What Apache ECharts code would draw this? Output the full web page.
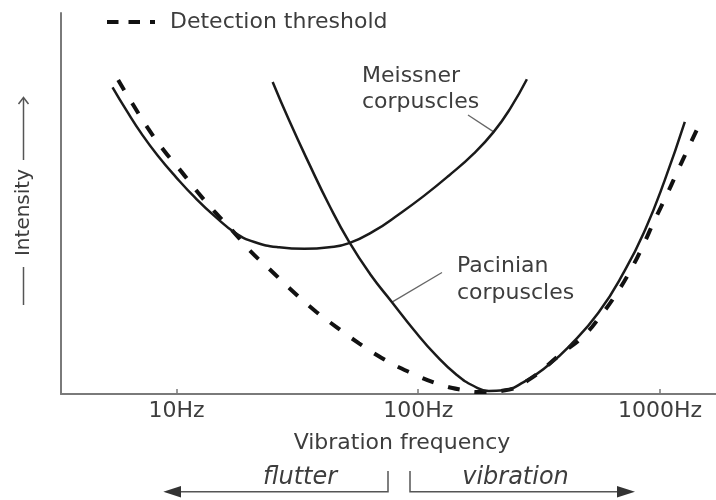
<!DOCTYPE html>
<html><head><meta charset="utf-8">
<script src="https://cdn.jsdelivr.net/npm/echarts@6/dist/echarts.min.js"></script>
<style>html,body{margin:0;padding:0;background:#fff}#c{width:716px;height:500px}</style>
</head><body><div id="c"></div>
<script>
// ---- data (frequency in Hz, intensity in arbitrary units 0-100) ----
const xTickLabels = ['10Hz', '100Hz', '1000Hz'];
const meissnerFreq = [5.44, 6.23, 7.19, 8.36, 9.93, 12.0, 14.5, 17.5, 21.0, 26.6, 33.8, 42.8, 51.8, 65.7, 83.3, 105.6, 133.8, 169.7, 205.2, 241.1, 281.5];
const meissnerInt  = [80.5, 74.3, 68.2, 62.6, 57.0, 51.4, 46.5, 42.3, 39.9, 38.5, 38.1, 38.5, 39.6, 42.8, 47.2, 52.0, 57.3, 63.1, 68.8, 75.1, 82.6];
const pacinianFreq = [25.0, 29.3, 35.4, 42.8, 51.8, 63.2, 77.9, 96.0, 118.3, 144.4, 169.7, 195.7, 225.7, 272.9, 345.9, 418.2, 556.2, 716.6, 866.5, 1047.6, 1266.8];
const pacinianInt  = [81.9, 71.7, 60.4, 49.6, 39.9, 31.5, 24.1, 16.8, 10.2, 5.0, 2.1, 0.8, 1.0, 3.1, 7.6, 12.3, 21.3, 32.5, 43.0, 56.2, 71.4];
const thresholdFreq = [5.74, 6.62, 7.63, 8.86, 10.5, 12.3, 14.6, 17.7, 20.0, 24.9, 30.1, 37.8, 45.6, 56.9, 70.9, 91.5, 121.7, 154.3, 183.1, 225.7, 286.1, 392.5, 482.5, 570.7, 661.6, 758.6, 852.6, 946.3, 1063.6, 1188.8, 1328.5, 1460.6];
const thresholdInt  = [82.4, 75.9, 69.7, 64.0, 58.3, 52.8, 47.4, 41.7, 37.8, 32.1, 27.1, 21.6, 17.7, 13.3, 9.4, 5.8, 2.6, 1.0, 0.5, 0.9, 3.7, 10.7, 15.2, 20.7, 26.4, 32.7, 39.1, 45.4, 52.1, 58.8, 65.4, 71.0];
const seriesNames = ['Detection threshold', 'Meissner corpuscles', 'Pacinian corpuscles'];
const meissnerLabelPoint = [205.2, 68.8];
const pacinianLabelPoint = [77.9, 24.1];

const FONT = 'DejaVu Sans';
const TXT = '#3d3d3d';
const AX = '#7a7a7a';
const pairs = (xs, ys) => xs.map((x, i) => [x, ys[i]]);

const chart = echarts.init(document.getElementById('c'), null, {renderer: 'canvas'});
chart.setOption({
  animation: false,
  backgroundColor: '#fff',
  grid: {left: 61, right: -2, top: 13, bottom: 106},
  legend: {
    data: [seriesNames[0]], left: 107, top: 11, padding: 0,
    itemWidth: 48, itemHeight: 4,
    icon: 'path://M0,0H11.5V4H0Z M21.5,0H33V4H21.5Z M43,0H48V4H43Z',
    itemStyle: {color: '#111', borderWidth: 0},
    textStyle: {fontFamily: FONT, fontSize: 22, color: TXT, padding: [0, 0, 0, 10]}
  },
  xAxis: {
    type: 'log', logBase: 10, min: 3.33, max: 1705,
    axisLine: {lineStyle: {color: AX, width: 2}},
    axisTick: {inside: true, length: 5, lineStyle: {color: AX, width: 1.5}},
    axisLabel: {
      margin: 6, fontFamily: FONT, fontSize: 22, color: TXT,
      showMinLabel: false, showMaxLabel: false,
      formatter: v => {
        const L = Math.log10(v);
        const r = Math.round(L);
        return Math.abs(L - r) < 1e-6 && r >= 1 && r <= 3 ? xTickLabels[r - 1] : '';
      }
    },
    splitLine: {show: false},
    name: 'Vibration frequency', nameLocation: 'middle', nameGap: 38,
    nameTextStyle: {fontFamily: FONT, fontSize: 22, color: TXT, padding: [0, 0, 0, 27]}
  },
  yAxis: {
    type: 'value', min: 0, max: 100,
    axisLine: {show: true, lineStyle: {color: AX, width: 2}},
    axisTick: {show: false}, axisLabel: {show: false}, splitLine: {show: false}
  },
  series: [
    {name: seriesNames[0], type: 'line', data: pairs(thresholdFreq, thresholdInt), smooth: 0.5, symbol: 'none', clip: false,
     itemStyle: {color: '#111'}, lineStyle: {color: '#111', width: 4, type: [12, 15]}},
    {name: seriesNames[1], type: 'line', data: pairs(meissnerFreq, meissnerInt), smooth: 0.5, symbol: 'none', clip: false,
     itemStyle: {color: '#111'}, lineStyle: {color: '#1a1a1a', width: 2.5}},
    {name: seriesNames[2], type: 'line', data: pairs(pacinianFreq, pacinianInt), smooth: 0.5, symbol: 'none', clip: false,
     itemStyle: {color: '#111'}, lineStyle: {color: '#1a1a1a', width: 2.5}}
  ]
});

const mP = chart.convertToPixel({gridIndex: 0}, meissnerLabelPoint);
const pP = chart.convertToPixel({gridIndex: 0}, pacinianLabelPoint);
const G = '#555';
const tstyle = (t, extra) => Object.assign({text: t, fontFamily: FONT, fontSize: 22, fill: TXT, lineHeight: 26.7}, extra);
chart.setOption({
  graphic: [
    {type: 'text', left: 362, top: 62.7, style: tstyle('Meissner\ncorpuscles')},
    {type: 'line', shape: {x1: 468, y1: 115, x2: mP[0], y2: mP[1]}, style: {stroke: '#666', lineWidth: 1.3}},
    {type: 'text', left: 457, top: 253.3, style: tstyle('Pacinian\ncorpuscles')},
    {type: 'line', shape: {x1: 442, y1: 272.5, x2: pP[0], y2: pP[1]}, style: {stroke: '#666', lineWidth: 1.3}},
    // y label with arrow
    {type: 'text', x: 24, y: 212.5, rotation: Math.PI / 2,
     style: {text: 'Intensity', fontFamily: FONT, fontSize: 20, fill: TXT, align: 'center', verticalAlign: 'middle'}},
    {type: 'line', shape: {x1: 23.5, y1: 160, x2: 23.5, y2: 98}, style: {stroke: G, lineWidth: 1.5}},
    {type: 'polyline', shape: {points: [[18.5, 104], [23.5, 97.5], [28.5, 104]]}, style: {stroke: G, lineWidth: 1.5, fill: null}},
    {type: 'line', shape: {x1: 23.5, y1: 267, x2: 23.5, y2: 305}, style: {stroke: G, lineWidth: 1.5}},
    // flutter / vibration
    {type: 'polyline', shape: {points: [[388, 471], [388, 491.7], [178, 491.7]]}, style: {stroke: G, lineWidth: 1.5, fill: null}},
    {type: 'polygon', shape: {points: [[163.3, 491.7], [181, 486], [181, 497.4]]}, style: {fill: '#333'}},
    {type: 'polyline', shape: {points: [[410, 471], [410, 491.7], [620, 491.7]]}, style: {stroke: G, lineWidth: 1.5, fill: null}},
    {type: 'polygon', shape: {points: [[635, 491.7], [617, 486], [617, 497.4]]}, style: {fill: '#333'}},
    {type: 'text', x: 300, y: 477.7, style: {text: 'flutter', fontFamily: FONT, fontSize: 24, fontStyle: 'italic', fill: TXT, align: 'center', verticalAlign: 'middle'}},
    {type: 'text', x: 515.5, y: 477.7, style: {text: 'vibration', fontFamily: FONT, fontSize: 24, fontStyle: 'italic', fill: TXT, align: 'center', verticalAlign: 'middle'}}
  ]
});
</script>
</body></html>
